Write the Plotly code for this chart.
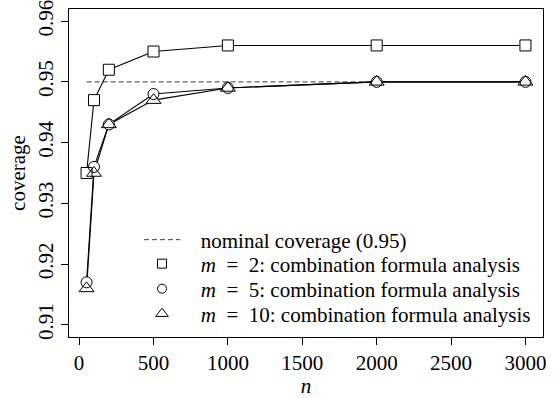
import plotly.graph_objects as go

n_vals = [50, 100, 200, 500, 1000, 2000, 3000]
cov_m2 = [0.935, 0.947, 0.952, 0.955, 0.956, 0.956, 0.956]
cov_m5 = [0.917, 0.936, 0.943, 0.948, 0.949, 0.950, 0.950]
cov_m10 = [0.916, 0.935, 0.943, 0.947, 0.949, 0.950, 0.950]
nominal = 0.95
x_ticks = [0, 500, 1000, 1500, 2000, 2500, 3000]
y_ticks = [0.91, 0.92, 0.93, 0.94, 0.95, 0.96]
legend_labels = ["nominal coverage (0.95)",
                 "<i>m</i>\u2002=\u20022: combination formula analysis",
                 "<i>m</i>\u2002=\u20025: combination formula analysis",
                 "<i>m</i>\u2002=\u200210: combination formula analysis"]

FONT = "Liberation Serif"
PAD = "\u00a0\u00a0\u00a0"
fig = go.Figure()

fig.add_trace(go.Scatter(x=[n_vals[0], n_vals[-1]], y=[nominal, nominal], mode="lines",
                         line=dict(color="#3a3a3a", width=1, dash="5px,3px"),
                         name=PAD + legend_labels[0], showlegend=True, legend="legend"))

series = [(cov_m2, "square", 11), (cov_m5, "circle", 11), (cov_m10, "triangle-up", 13)]
# connecting lines
for ys, sym, sz in series:
    fig.add_trace(go.Scatter(x=n_vals, y=ys, mode="lines",
                             line=dict(color="black", width=1.1), showlegend=False, hoverinfo="skip"))
# white knock-outs so lines stop at the symbols (R type="b" look)
for ys, sym, sz in series:
    fig.add_trace(go.Scatter(x=n_vals, y=ys, mode="markers",
                             marker=dict(symbol=sym, size=sz, color="white", line=dict(width=0)),
                             showlegend=False, hoverinfo="skip"))
# open symbols
for ys, sym, sz in series:
    fig.add_trace(go.Scatter(x=n_vals, y=ys, mode="markers",
                             marker=dict(symbol=sym + "-open", size=sz, color="black", line=dict(width=1, color="black")),
                             showlegend=False))
leg_names = ["legend2", "legend3", "legend4"]
for (ys, sym, sz), lab, lg in zip(series, legend_labels[1:], leg_names):
    fig.add_trace(go.Scatter(x=[None], y=[None], mode="markers",
                             marker=dict(symbol=sym + "-open", size=sz - 2, color="black", line=dict(width=1, color="black")),
                             name=PAD + lab, showlegend=True, legend=lg))

row_y = [0.2957, 0.2225, 0.1463, 0.0701]
leg_common = dict(x=0.1477, xanchor="left", yanchor="middle", bgcolor="rgba(0,0,0,0)",
                  borderwidth=0, font=dict(family=FONT, size=21), itemwidth=36)

fig.update_layout(
    width=555, height=398,
    margin=dict(l=69, r=12, t=9, b=61),
    paper_bgcolor="white", plot_bgcolor="white",
    font=dict(family=FONT, size=21, color="black"),
    showlegend=True,
    legend=dict(y=row_y[0], **leg_common),
    legend2=dict(y=row_y[1], **leg_common),
    legend3=dict(y=row_y[2], **leg_common),
    legend4=dict(y=row_y[3], **leg_common),
    xaxis=dict(range=[-68, 3118], tickvals=x_ticks, ticks="outside", ticklen=7, tickcolor="black",
               showline=True, linecolor="black", linewidth=1, mirror=True, showgrid=False, zeroline=False,
               automargin=False, tickfont=dict(family=FONT, size=21),
               title=dict(text="<i>n</i>", standoff=8, font=dict(family=FONT, size=21))),
    yaxis=dict(range=[0.908, 0.962], tickvals=y_ticks, tickformat=".2f", ticks="outside", ticklen=7,
               tickcolor="black", tickangle=-90, automargin=False, tickfont=dict(family=FONT, size=21),
               ticklabeloverflow="allow",
               showline=True, linecolor="black", linewidth=1, mirror=True, showgrid=False, zeroline=False,
               title=dict(text="coverage", standoff=2, font=dict(family=FONT, size=21))),
)

fig.write_html("out.html")
